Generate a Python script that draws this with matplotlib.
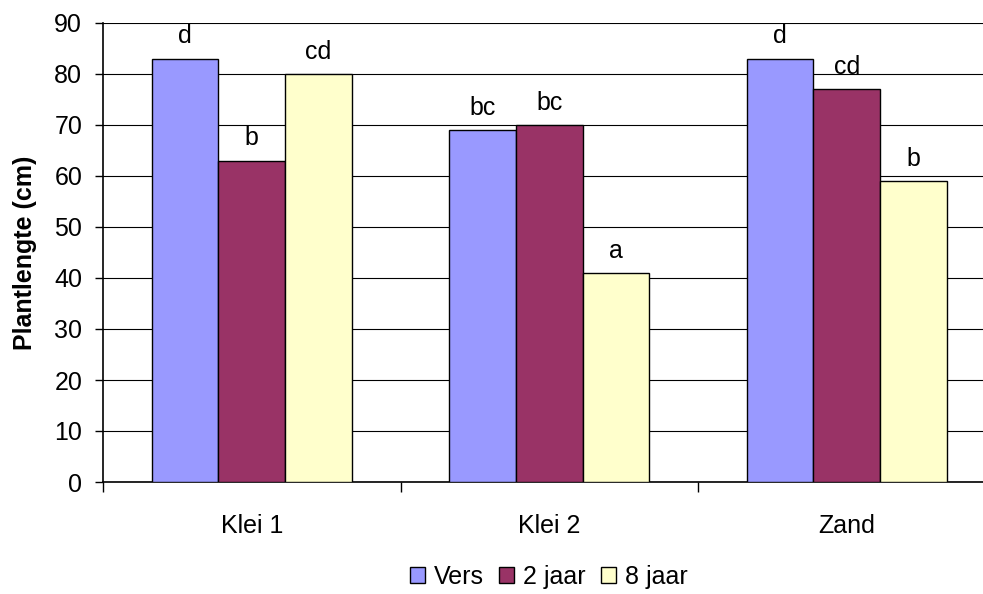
import matplotlib
matplotlib.use("Agg")
import matplotlib.pyplot as plt
import numpy as np
from matplotlib.patches import Patch

categories = ["Klei 1", "Klei 2", "Zand"]
series = ["Vers", "2 jaar", "8 jaar"]
vers = [83, 69, 83]
jaar2 = [63, 70, 77]
jaar8 = [80, 41, 59]
letters_vers = ["d", "bc", "d"]
letters_jaar2 = ["b", "bc", "cd"]
letters_jaar8 = ["cd", "a", "b"]
colors = ["#9999FF", "#993366", "#FFFFCC"]
yticks = [0, 10, 20, 30, 40, 50, 60, 70, 80, 90]

plt.rcParams['font.family'] = ['Liberation Sans', 'DejaVu Sans']
FS = 18

W, H = 983, 594
fig = plt.figure(figsize=(W/100, H/100), dpi=100)
left, right, top, bottom = 103, 995.5, 23, 482
ax = fig.add_axes([left/W, 1-bottom/H, (right-left)/W, (bottom-top)/H])

x = np.arange(len(categories))
bw = 0.224
data = [vers, jaar2, jaar8]
labs = [letters_vers, letters_jaar2, letters_jaar8]
for i, (vals, col, lab) in enumerate(zip(data, colors, labs)):
    pos = x + (i-1)*bw
    ax.bar(pos, vals, width=bw, color=col, edgecolor='black', linewidth=1, zorder=3, label=series[i])
    for p, v, t in zip(pos, vals, lab):
        ax.annotate(t, (p, v), xytext=(0, 11), textcoords='offset points', ha='center', va='baseline', fontsize=FS)

ax.set_xlim(-0.5, len(categories)-0.5)
ax.set_ylim(0, 90)
ax.set_yticks(yticks)
ax.tick_params(axis='y', labelsize=FS, length=6, width=1, direction='out', pad=9)
ax.set_xticks(np.arange(len(categories)+1)-0.5)
ax.set_xticklabels([])
ax.tick_params(axis='x', which='major', length=7, width=1, direction='out')
ax.set_xticks(x, minor=True)
ax.set_xticklabels(categories, minor=True)
ax.tick_params(axis='x', which='minor', length=0, pad=23, labelsize=FS)
ax.yaxis.grid(True, color='black', linewidth=0.8, zorder=0)
ax.set_axisbelow(True)
for s in ['top', 'right']:
    ax.spines[s].set_visible(False)
for s in ['left', 'bottom']:
    ax.spines[s].set_linewidth(1.2)
ax.set_ylabel("Plantlengte (cm)", fontsize=FS, fontweight='bold', labelpad=12)

handles = [Patch(facecolor=c, edgecolor='black', label=s) for c, s in zip(colors, series)]
fig.legend(handles=handles, loc='center', bbox_to_anchor=(549/W, 1-577/H), ncol=3, frameon=False,
           fontsize=FS, handlelength=0.6, handleheight=0.6, handletextpad=0.36, columnspacing=0.6)

fig.savefig("out.png", dpi=100)
